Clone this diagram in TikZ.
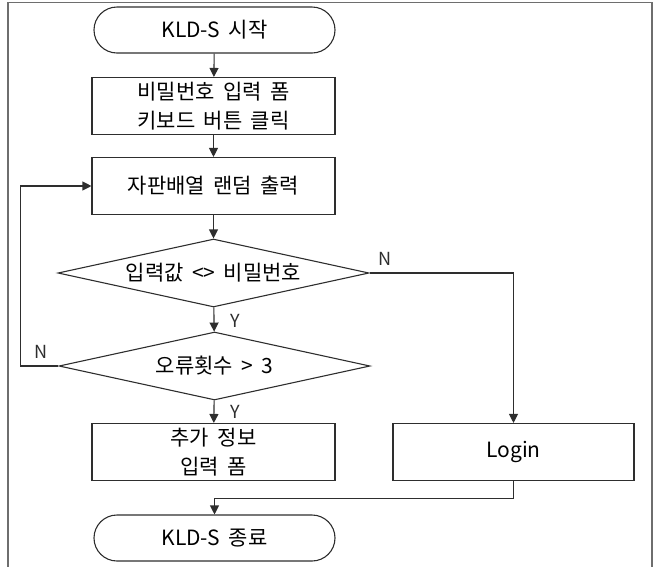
\documentclass[tikz,border=0pt]{standalone}
\usepackage{fontspec}
\setmainfont{Noto Sans CJK KR}[WordSpace=1.8]
\usetikzlibrary{positioning,arrows.meta,shapes.geometric,shapes.misc}
\definecolor{ink}{HTML}{2E2E2E}
\definecolor{framec}{HTML}{6E6E6E}

\begin{document}
\begin{tikzpicture}[x=1pt,y=-1pt,
    term/.style={draw=ink, rounded rectangle, line width=1.1pt,
                 minimum width=241pt, minimum height=46pt, inner sep=0pt},
    proc/.style={draw=ink, rectangle, line width=1.1pt, align=center,
                 minimum width=243pt, minimum height=57pt, inner sep=0pt},
    cond/.style={draw=ink, diamond, aspect=4.6, line width=1.1pt,
                 minimum width=311pt, minimum height=68pt, inner sep=0pt},
    yn/.style={font=\fontsize{18}{20}\selectfont, text=ink, inner sep=0pt},
    fl/.style={-{Triangle[length=9pt,width=9pt]}, line width=1.1pt, ink},
    lk/.style={line width=1.1pt, ink},
  ]
    \useasboundingbox (0,0) rectangle (659,566);
    % outer frame (bottom edge cut off)
    \draw[framec, line width=1.2pt] (8,570) -- (8,2.5) -- (652,2.5) -- (652,570);

    \begin{scope}[font=\fontsize{21}{29}\selectfont]
    % flow chart boxes
    \node[term] (start) at (214.5,30) {KLD-S 시작};
    \node[proc] (pwform) at (213.5,106) {비밀번호 입력 폼\\키보드 버튼 클릭};
    \node[proc] (shuffle) at (213.5,186) {자판배열 랜덤 출력};
    \node[cond] (cmp) at (213.5,273) {입력값 <> 비밀번호};
    \node[cond] (cnt) at (214.5,366) {오류횟수 > 3};
    \node[proc] (extra) at (213.5,452) {추가 정보\\입력 폼};
    \node[proc, minimum width=241pt] (login) at (513.5,452) {Login};
    \node[term] (finish) at (214.5,538) {KLD-S 종료};
    \end{scope}

    % connectors
    \draw[fl] (start) -- (pwform);
    \draw[fl] (pwform) -- (shuffle);
    \draw[fl] (shuffle) -- (cmp);
    \draw[fl] (cmp) -- (cnt);
    \draw[fl] (cnt) -- (extra);
    \draw[fl] (cnt.west) -- ++(-38,0) |- (shuffle.west);
    \draw[fl] (cmp.east) -| (login.north);
    \draw[lk] (login.south) -- ++(0,17) coordinate (jn);
    \draw[fl] (jn) -| (finish.north);

    % branch labels
    \node[yn] (ylab1) at (235,321) {Y};
    \node[yn] (ylab2) at (235,412) {Y};
    \node[yn] (nlab1) at (385,259) {N};
    \node[yn] (nlab2) at (41,352) {N};
\end{tikzpicture}
\end{document}
